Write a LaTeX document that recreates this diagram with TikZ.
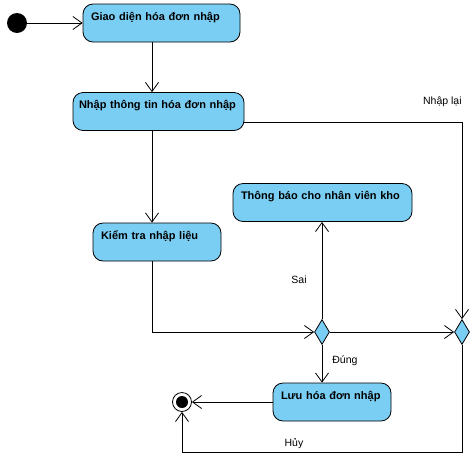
\documentclass[tikz,border=0pt]{standalone}
\usepackage{fontspec}
\setmainfont{Liberation Sans}
\usepackage{tikz}
\usetikzlibrary{positioning, calc, arrows.meta, shapes.geometric}
\definecolor{actblue}{RGB}{122,206,244}
\tikzset{
  act/.style={draw, fill=actblue, rounded corners=10pt, line width=0.8pt,
    inner xsep=8pt, inner ysep=4pt, text height=12pt, text depth=18pt,
    align=left, font=\fontsize{11}{12}\selectfont\bfseries},
  decision/.style={draw, fill=actblue, diamond, inner sep=0pt, line width=0.8pt,
    minimum width=15pt, minimum height=25pt},
  flow/.style={line width=0.8pt, -{Straight Barb[length=9pt, width=13pt]}},
  guard/.style={font=\fontsize{10.5}{12}\selectfont, inner sep=0pt}
}
\begin{document}
\begin{tikzpicture}[x=1pt, y=-1pt]
      \useasboundingbox (0,0) rectangle (476,456);

      \node[circle, fill=black, minimum size=20pt, inner sep=0pt] (start) at (17,23) {};

      \node[act, text width=141pt] (giaodien) at (161.5,23) {Giao diện hóa đơn nhập};
      \node[act, text width=159pt, inner xsep=6pt] (nhaptt) at (158.5,111.5) {Nhập thông tin hóa đơn nhập};
      \node[act, text width=163pt] (thongbao) at (322.5,202.5) {Thông báo cho nhân viên kho};
      \node[act, text width=112pt] (kiemtra) at (157,242) {Kiểm tra nhập liệu};
      \node[act, text width=102pt] (luu) at (332,402) {Lưu hóa đơn nhập};

      \node[decision] (dm1) at (322,332) {};
      \node[decision] (dm2) at (462,332) {};

      \node[circle, draw, fill=white, line width=0.8pt, minimum size=19pt, inner sep=0pt] (end) at (182,402) {};
      \fill (end) circle (6pt);

      \coordinate (colx) at (152,0);
      \coordinate (bot) at (0,452);

      \draw[flow] (start) -- (start -| giaodien.west);
      \draw[flow] (giaodien.south -| colx) -- (nhaptt.north -| colx);
      \draw[flow] (nhaptt.south -| colx) -- (kiemtra.north -| colx);
      \draw[flow] ([yshift=-10.5pt]nhaptt.east) -| node[guard, pos=0.5, anchor=base east, yshift=18pt] {Nhập lại} (dm2.north);
      \draw[flow] (kiemtra.south -| colx) |- (dm1.west);
      \draw[flow] (dm1.north) -- node[guard, pos=0.4, left=15pt] {Sai} (thongbao.south -| dm1);
      \draw[flow] (dm1.east) -- (dm2.west);
      \draw[flow] (dm1.south) -- node[guard, pos=0.41, right=10pt] {Đúng} (dm1.south |- luu.north);
      \draw[flow] (luu.west) -- (end.east);
      \draw[flow] (dm2.south) -- (dm2.south |- bot) -| node[guard, pos=0.3, above=3pt] {Hủy} (end.south);
    \end{tikzpicture}
\end{document}
